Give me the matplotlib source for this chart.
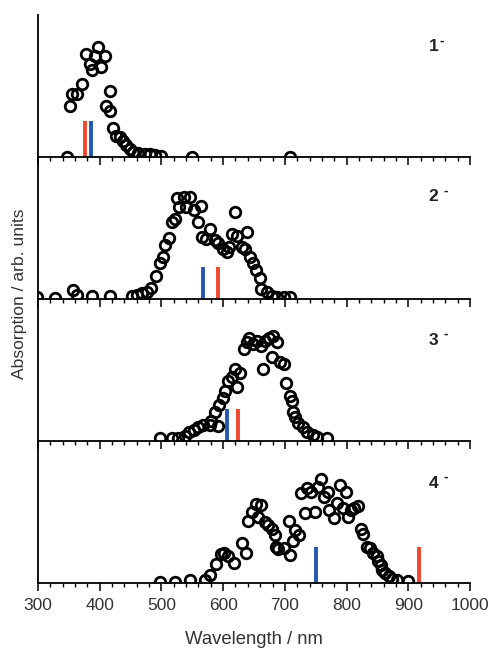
import matplotlib
matplotlib.use("Agg")
from matplotlib import pyplot as plt
from matplotlib.ticker import MultipleLocator

plt.rcParams["font.family"] = ["Liberation Sans", "DejaVu Sans"]

# measured spectra (wavelength in nm, absorption in arb. units)
wl_1 = [347, 352, 355, 363, 372, 377, 384, 388, 392, 397, 402, 409, 410, 416, 416,
        422, 426, 433, 438, 443, 449, 454, 462, 473, 481, 489, 499, 549, 708]
abs_1 = [0.0, 0.51, 0.63, 0.63, 0.73, 1.03, 0.93, 0.87, 1.01, 1.10, 0.90, 1.01, 0.51, 0.66, 0.46,
         0.29, 0.21, 0.20, 0.16, 0.12, 0.08, 0.05, 0.04, 0.03, 0.03, 0.02, 0.01, 0.0, 0.0]

wl_2 = [299, 328, 356, 363, 387, 417, 452, 460, 468, 476, 483, 492, 497, 502, 506, 513,
        517, 522, 526, 529, 537, 540, 547, 552, 560, 564, 566, 573, 579, 586, 592, 599,
        606, 610, 614, 619, 623, 630, 635, 638, 644, 648, 653, 659, 662, 671, 679, 687,
        698, 708]
abs_2 = [0.02, 0.01, 0.09, 0.04, 0.03, 0.03, 0.03, 0.04, 0.06, 0.07, 0.11, 0.23, 0.36, 0.42,
         0.54, 0.61, 0.77, 0.80, 1.01, 0.92, 1.02, 0.92, 1.02, 0.89, 0.77, 0.93, 0.62, 0.60,
         0.70, 0.59, 0.56, 0.50, 0.47, 0.52, 0.65, 0.87, 0.63, 0.52, 0.50, 0.67, 0.42, 0.36,
         0.29, 0.21, 0.10, 0.07, 0.03, 0.02, 0.02, 0.02]

wl_3 = [498, 517, 527, 538, 545, 552, 560, 567, 578, 581, 587, 592, 594, 599, 603, 608,
        614, 619, 623, 627, 633, 639, 642, 649, 655, 661, 664, 668, 675, 679, 681, 687,
        692, 699, 702, 708, 711, 714, 716, 722, 729, 736, 745, 752, 769]
abs_3 = [0.03, 0.03, 0.03, 0.05, 0.09, 0.11, 0.14, 0.16, 0.16, 0.20, 0.29, 0.15, 0.36, 0.43,
         0.50, 0.60, 0.64, 0.72, 0.54, 0.68, 0.92, 0.99, 1.03, 0.97, 1.00, 0.95, 0.72, 1.00,
         1.03, 0.84, 1.05, 0.99, 0.79, 0.77, 0.58, 0.45, 0.40, 0.29, 0.24, 0.18, 0.14, 0.09,
         0.06, 0.04, 0.03]

wl_4 = [498, 522, 546, 571, 579, 588, 596, 601, 608, 618, 630, 637, 641, 646, 653, 657,
        662, 668, 673, 679, 684, 686, 689, 698, 706, 708, 713, 716, 723, 726, 733, 736,
        743, 749, 753, 759, 763, 770, 772, 779, 784, 789, 795, 799, 803, 807, 812, 819,
        823, 827, 833, 838, 843, 849, 851, 855, 858, 862, 868, 873, 881, 900]
abs_4 = [0.015, 0.015, 0.03, 0.03, 0.08, 0.19, 0.29, 0.30, 0.27, 0.20, 0.40, 0.30, 0.62,
         0.71, 0.79, 0.66, 0.78, 0.61, 0.58, 0.54, 0.48, 0.36, 0.34, 0.35, 0.62, 0.28, 0.42,
         0.53, 0.48, 0.90, 0.70, 0.95, 0.91, 0.71, 0.96, 1.04, 0.86, 0.91, 0.73, 0.65, 0.80,
         0.98, 0.75, 0.91, 0.66, 0.73, 0.75, 0.77, 0.54, 0.49, 0.36, 0.35, 0.30, 0.27, 0.22,
         0.18, 0.13, 0.10, 0.07, 0.04, 0.03, 0.02]

# calculated transitions (blue / red sticks)
blue_wl = [386, 568, 606, 750]
red_wl = [376, 591, 624, 918]
stick_h = [0.36, 0.32, 0.32, 0.36]

labels = ["1", "2", "3", "4"]
label_y = [0.775, 0.72, 0.71, 0.70]

wls = [wl_1, wl_2, wl_3, wl_4]
absos = [abs_1, abs_2, abs_3, abs_4]

fig = plt.figure(figsize=(4.89, 6.5), dpi=100)
left, width = 38 / 489, 432 / 489
tops = [15, 157, 299, 441]
panel_h = 142

blue = "#2457b0"
red = "#f0472e"
grey = "#333333"

for i in range(4):
    bottom = 1 - (tops[i] + panel_h) / 650
    ax = fig.add_axes([left, bottom, width, panel_h / 650])
    ax.vlines(blue_wl[i], 0, stick_h[i], colors=blue, linewidth=2.8, zorder=2)
    ax.vlines(red_wl[i], 0, stick_h[i], colors=red, linewidth=2.8, zorder=2)
    ax.plot(wls[i], absos[i], "o", mfc="none", mec="black", ms=7.6, mew=2.0, zorder=3)
    ax.set_xlim(300, 1000)
    ax.set_ylim(0, 1.42)
    ax.spines["top"].set_visible(False)
    ax.spines["right"].set_visible(False)
    ax.spines["left"].set_linewidth(1.3)
    ax.spines["bottom"].set_linewidth(1.3)
    ax.set_yticks([])
    ax.xaxis.set_major_locator(MultipleLocator(100))
    ax.xaxis.set_minor_locator(MultipleLocator(20))
    ax.tick_params(axis="x", which="major", direction="out", length=5.5, width=1.1,
                   labelsize=12.5, labelcolor=grey, pad=5)
    ax.tick_params(axis="x", which="minor", direction="out", length=2.8, width=1.0)
    if i < 3:
        ax.tick_params(axis="x", labelbottom=False)
    ax.text(0.915, label_y[i], labels[i], transform=ax.transAxes, fontsize=12.5,
            fontweight="bold", color="#222222", ha="center", va="center")
    ax.text(0.945 if i else 0.935, label_y[i] + 0.045, "-", transform=ax.transAxes,
            fontsize=10, fontweight="bold", color="#222222", ha="center", va="center")
    ax.set_facecolor("none")

fig.text(254 / 489, 1 - 640 / 650, "Wavelength / nm", fontsize=13.3, color=grey,
         ha="center", va="center")
fig.text(20 / 489, 1 - 294 / 650, "Absorption / arb. units", fontsize=12.6, color=grey,
         ha="center", va="center", rotation=90)

plt.savefig("out.png", dpi=100)
